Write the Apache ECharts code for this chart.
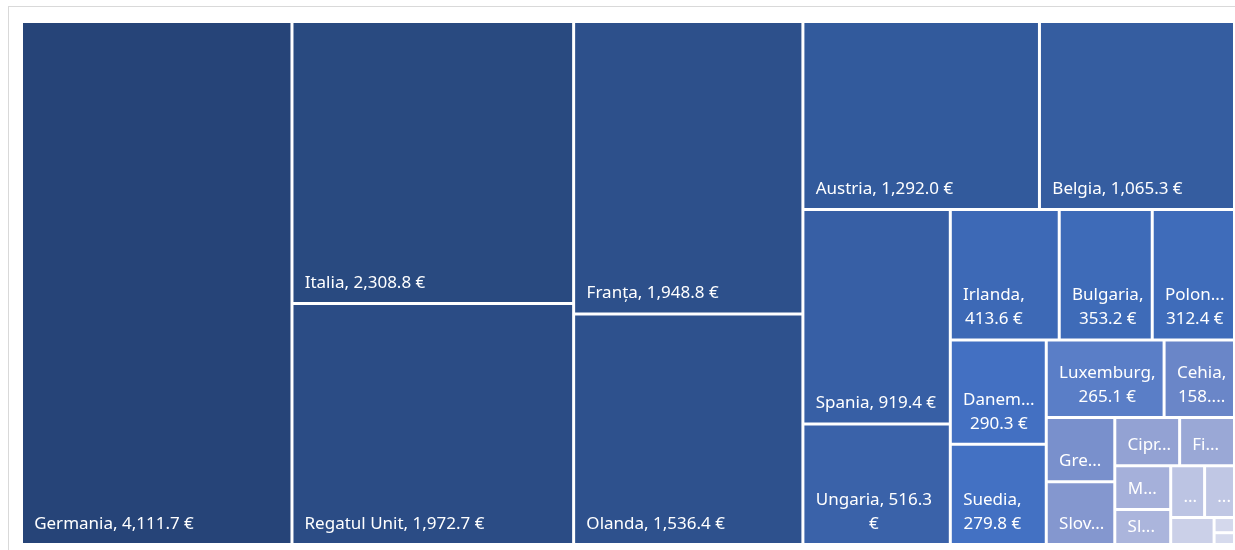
<!DOCTYPE html>
<html lang="ro">
<head>
<meta charset="utf-8">
<script src="https://cdn.jsdelivr.net/npm/echarts@6/dist/echarts.min.js"></script>
<style>
    body { margin: 0; background: #fff; }
    #frame { position: absolute; left: 8px; top: 6px; width: 1300px; height: 600px; border: 1px solid #d9d9d9; }
    #chartMain { position: absolute; left: 0; top: 0; width: 1235px; height: 550px; }
</style>
</head>
<body>

<div id="frame"></div>
<div id="chartMain"></div>

<script>
    // tari si valori (euro)
    var tari = ['Germania', 'Italia', 'Regatul Unit', 'Franța', 'Olanda', 'Austria', 'Belgia', 'Spania',
        'Ungaria', 'Irlanda', 'Bulgaria', 'Polonia', 'Danemarca', 'Suedia', 'Luxemburg', 'Cehia',
        'Grecia', 'Slovacia', 'Cipru', 'Finlanda', 'Malta', 'Slovenia', 'Portugalia', 'Croația',
        'Lituania', 'Estonia', 'Letonia'];
    var valori = [4111.7, 2308.8, 1972.7, 1948.8, 1536.4, 1292.0, 1065.3, 919.4,
        516.3, 413.6, 353.2, 312.4, 290.3, 279.8, 265.1, 158.4,
        128, 125, 91, 77, 71, 57, 51, 45,
        34, 9, 7];
    var culori = ['#264478', '#294a80', '#2b4c85', '#2d508b', '#2e518d', '#325a9c', '#355da0', '#375fa5',
        '#3a62a9', '#3d69b6', '#3e6bb8', '#3f6cba', '#4370c2', '#4371c3', '#5a7ec7', '#6a86c8',
        '#7990cc', '#8497cf', '#93a2d3', '#9aa8d6', '#a5b0da', '#abb5dc', '#bcc4e3', '#c0c7e4',
        '#cbd0e8', '#d4d8ec', '#d6daed'];

    var FONT = 'Noto Sans', FS = 17, LH = 24, PADL = 10, PADR = 7;

    function fmt(v) {
        return v.toLocaleString('en-US', { minimumFractionDigits: 1, maximumFractionDigits: 1 }) + ' €';
    }

    var ctx = document.createElement('canvas').getContext('2d');
    ctx.font = FS + 'px "' + FONT + '"';
    function lat(s) { return ctx.measureText(s).width; }

    function taie(s, avail) {
        if (lat(s) <= avail) return s;
        for (var k = s.length - 1; k > 0; k--) {
            var t = s.slice(0, k) + '...';
            if (lat(t) <= avail) return t;
        }
        return '...';
    }

    // impartire pe randuri ca in Excel: cuvinte intregi, cuvintele prea lungi se taie
    function randuri(text, avail, maxR) {
        var cuv = text.split(' '), grupe = [], cur = [];
        for (var i = 0; i < cuv.length; i++) {
            var incerc = cur.concat([cuv[i]]).join(' ');
            if (cur.length === 0 || lat(incerc) <= avail) { cur.push(cuv[i]); continue; }
            grupe.push(cur);
            cur = [cuv[i]];
        }
        if (cur.length) grupe.push(cur);
        if (grupe.length > maxR) {
            var rest = [];
            grupe.slice(maxR - 1).forEach(function (g) { rest = rest.concat(g); });
            grupe = grupe.slice(0, maxR - 1).concat([rest]);
        }
        return grupe.map(function (g) { return taie(g.join(' '), avail); });
    }

    function construiesteDate(layout) {
        var date = [];
        for (var i = 0; i < tari.length; i++) {
            var item = { name: tari[i], value: valori[i], itemStyle: { color: culori[i] } };
            var l = layout && layout[tari[i]];
            if (l) {
                var maxR = Math.floor((l.height - 14) / LH);
                if (maxR < 1 && l.height >= 22) maxR = 1;
                var lines = maxR > 0 ? randuri(tari[i] + ', ' + fmt(valori[i]), l.width - PADL - PADR, maxR) : [];
                var bw = 0;
                lines.forEach(function (s) { bw = Math.max(bw, lat(s)); });
                var jos = Math.max(0, Math.min(7, (l.height - lines.length * LH) / 2));
                var sus = Math.max(0, l.height - jos - lines.length * LH);
                item.label = {
                    formatter: lines.map(function (s) { return '{m|' + s + '}'; }).join('\n'),
                    padding: [sus, Math.max(0, l.width - PADL - Math.ceil(bw) - 2), jos, PADL]
                };
            }
            date.push(item);
        }
        return date;
    }

    var myChart = echarts.init(document.getElementById('chartMain'));
    var serie = {
        type: 'treemap',
        left: 23,
        top: 23,
        width: 1210,
        height: 520,
        roam: false,
        nodeClick: false,
        squareRatio: 1,
        breadcrumb: { show: false },
        itemStyle: { gapWidth: 3, borderWidth: 0, borderColor: '#fff' },
        label: {
            show: true,
            position: 'insideTopLeft',
            distance: 0,
            color: '#fff',
            fontFamily: FONT,
            fontSize: FS,
            lineHeight: LH,
            rich: { m: { align: 'center', color: '#fff', fontFamily: FONT, fontSize: FS, lineHeight: LH } }
        },
        data: construiesteDate(null)
    };
    myChart.setOption({ animation: false, series: [serie] });

    // dupa prima asezare citim dreptunghiurile si refacem etichetele
    var layout = {};
    var tree = myChart.getModel().getSeriesByIndex(0).getData().tree;
    tree.root.children.forEach(function (n) {
        var r = n.getLayout();
        layout[n.name] = { width: r.width, height: r.height };
    });
    serie.data = construiesteDate(layout);
    myChart.setOption({ series: [serie] });
</script>
</body>
</html>
